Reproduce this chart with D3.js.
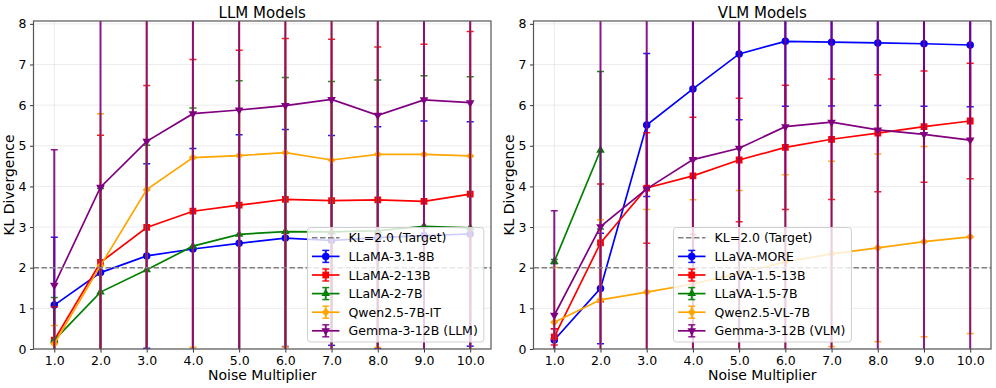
<!DOCTYPE html>
<html>
<head>
<meta charset="utf-8">
<script src="https://cdn.jsdelivr.net/npm/d3@7"></script>
<style>
  body { margin: 0; background: #fff; }
  text { font-family: "DejaVu Sans", sans-serif; fill: #000; }
</style>
</head>
<body>
<svg id="chart" width="996" height="388"></svg>
<script>
"use strict";

// noise multipliers on the x axis
var noiseMult = [1, 2, 3, 4, 5, 6, 7, 8, 9, 10];
var yTicks = [0, 1, 2, 3, 4, 5, 6, 7, 8];
var targetKL = 2.0;

// LLM panel
var llmNames = ["LLaMA-3.1-8B", "LLaMA-2-13B", "LLaMA-2-7B", "Qwen2.5-7B-IT", "Gemma-3-12B (LLM)"];
var llama31_8b_mean = [1.08, 1.88, 2.29, 2.46, 2.60, 2.73, 2.67, 2.74, 2.79, 2.83];
var llama31_8b_std  = [1.67, 2.12, 2.27, 2.47, 2.67, 2.67, 2.58, 2.73, 2.82, 2.76];
var llama2_13b_mean = [0.22, 2.13, 2.99, 3.39, 3.54, 3.68, 3.65, 3.67, 3.63, 3.81];
var llama2_13b_std  = [0.82, 3.13, 3.49, 3.73, 3.81, 3.96, 3.97, 3.76, 3.87, 4.00];
var llama2_7b_mean  = [0.22, 1.40, 1.95, 2.53, 2.82, 2.89, 2.88, 2.91, 3.02, 2.98];
var llama2_7b_std   = [1.05, 2.55, 3.06, 3.40, 3.78, 3.79, 3.70, 3.71, 3.70, 3.72];
var qwen25_7b_mean  = [0.13, 2.05, 3.92, 4.71, 4.76, 4.83, 4.65, 4.79, 4.79, 4.75];
var qwen25_7b_std   = [0.45, 3.74, 4.30, 4.67, 4.90, 4.78, 4.85, 4.75, 4.90, 4.88];
var gemma_llm_mean  = [1.57, 3.98, 5.11, 5.79, 5.88, 5.99, 6.14, 5.75, 6.13, 6.06];
var gemma_llm_std   = [3.33, 4.60, 5.50, 6.10, 6.30, 6.40, 6.50, 6.20, 6.60, 6.50];

// VLM panel
var vlmNames = ["LLaVA-MORE", "LLaVA-1.5-13B", "LLaVA-1.5-7B", "Qwen2.5-VL-7B", "Gemma-3-12B (VLM)"];
var llava_more_mean = [0.22, 1.49, 5.51, 6.40, 7.26, 7.57, 7.55, 7.53, 7.51, 7.48];
var llava_more_std  = [0.28, 1.36, 1.76, 1.74, 1.62, 1.60, 1.57, 1.54, 1.54, 1.52];
var llava15_13b_mean = [0.30, 2.61, 3.96, 4.26, 4.65, 4.96, 5.16, 5.31, 5.47, 5.61];
var llava15_13b_std  = [0.20, 1.45, 1.36, 1.44, 1.52, 1.53, 1.48, 1.44, 1.37, 1.42];
var llava15_7b_mean = [2.15, 4.89, null, null, null, null, null, null, null, null];
var llava15_7b_std  = [0.05, 1.94, null, null, null, null, null, null, null, null];
var qwen25_vl_mean = [0.66, 1.21, 1.40, 1.60, 1.87, 2.14, 2.34, 2.49, 2.64, 2.76];
var qwen25_vl_std  = [1.35, 1.97, 2.03, 2.07, 2.03, 2.15, 2.28, 2.31, 2.34, 2.38];
var gemma_vlm_mean = [0.83, 3.01, 3.94, 4.66, 4.94, 5.47, 5.58, 5.39, 5.28, 5.14];
var gemma_vlm_std  = [2.57, 5.50, 6.00, 6.50, 6.50, 7.00, 7.00, 7.00, 7.00, 7.00];

// styles per series slot (same order in both panels)
var styles = [
    { color: "blue",   marker: "circle" },
    { color: "red",    marker: "square" },
    { color: "green",  marker: "triangle" },
    { color: "orange", marker: "diamond" },
    { color: "purple", marker: "triangleDown" }
];

var panels = [
    { title: "LLM Models", names: llmNames, left: 33.5,
      means: [llama31_8b_mean, llama2_13b_mean, llama2_7b_mean, qwen25_7b_mean, gemma_llm_mean],
      stds:  [llama31_8b_std, llama2_13b_std, llama2_7b_std, qwen25_7b_std, gemma_llm_std],
      legendX: 307.5 },
    { title: "VLM Models", names: vlmNames, left: 533.5,
      means: [llava_more_mean, llava15_13b_mean, llava15_7b_mean, qwen25_vl_mean, gemma_vlm_mean],
      stds:  [llava_more_std, llava15_13b_std, llava15_7b_std, qwen25_vl_std, gemma_vlm_std],
      legendX: 673.5 }
];

var svg = d3.select("#chart");
var plotW = 457.5, plotTop = 21, plotBottom = 349;

function markerPath(kind) {
    if (kind === "circle") return d3.symbol().type(d3.symbolCircle).size(44)();
    if (kind === "square") return d3.symbol().type(d3.symbolSquare).size(46)();
    if (kind === "diamond") return d3.symbol().type(d3.symbolSquare).size(34)();
    return d3.symbol().type(d3.symbolTriangle).size(32)();
}
function markerRotate(kind) {
    if (kind === "diamond") return 45;
    if (kind === "triangleDown") return 180;
    return 0;
}

function drawPanel(p, idx) {
    var x = d3.scaleLinear().domain([0.55, 10.45]).range([p.left, p.left + plotW]);
    var y = d3.scaleLinear().domain([0, 8.07]).range([plotBottom, plotTop]);

    var g = svg.append("g");

    // grid
    g.append("g").selectAll("line").data(yTicks).enter().append("line")
        .attr("x1", p.left).attr("x2", p.left + plotW)
        .attr("y1", function (d) { return y(d); }).attr("y2", function (d) { return y(d); })
        .attr("stroke", "#b0b0b0").attr("stroke-opacity", 0.3).attr("stroke-width", 0.8);
    g.append("g").selectAll("line").data(noiseMult).enter().append("line")
        .attr("y1", plotTop).attr("y2", plotBottom)
        .attr("x1", function (d) { return x(d); }).attr("x2", function (d) { return x(d); })
        .attr("stroke", "#b0b0b0").attr("stroke-opacity", 0.3).attr("stroke-width", 0.8);

    var clipId = "clip" + idx;
    svg.append("clipPath").attr("id", clipId).append("rect")
        .attr("x", p.left).attr("y", plotTop).attr("width", plotW).attr("height", plotBottom - plotTop);

    var plot = g.append("g").attr("clip-path", "url(#" + clipId + ")");

    p.means.forEach(function (mean, s) {
        var st = styles[s];
        var pts = noiseMult.map(function (n, i) {
            return { x: n, m: mean[i], sd: p.stds[s][i] };
        }).filter(function (d) { return d.m !== null; });

        var sg = plot.append("g");
        var eb = sg.append("g").attr("stroke", st.color).attr("stroke-opacity", 0.9);
        eb.selectAll("line.bar").data(pts).enter().append("line")
            .attr("x1", function (d) { return x(d.x); }).attr("x2", function (d) { return x(d.x); })
            .attr("y1", function (d) { return y(d.m - d.sd); })
            .attr("y2", function (d) { return y(d.m + d.sd); })
            .attr("stroke-width", 2);
        [1, -1].forEach(function (sign) {
            eb.selectAll("line.cap" + sign).data(pts).enter().append("line")
                .attr("x1", function (d) { return x(d.x) - 3.5; })
                .attr("x2", function (d) { return x(d.x) + 3.5; })
                .attr("y1", function (d) { return y(d.m + sign * d.sd); })
                .attr("y2", function (d) { return y(d.m + sign * d.sd); })
                .attr("stroke-width", 1.5);
        });

        var line = d3.line().x(function (d) { return x(d.x); }).y(function (d) { return y(d.m); });
        sg.append("path").datum(pts).attr("d", line)
            .attr("fill", "none").attr("stroke", st.color).attr("stroke-width", 1.7);

        sg.selectAll("path.mk").data(pts).enter().append("path")
            .attr("d", markerPath(st.marker))
            .attr("transform", function (d) {
                return "translate(" + x(d.x) + "," + y(d.m) + ") rotate(" + markerRotate(st.marker) + ")";
            })
            .attr("fill", st.color);
    });

    // target line
    plot.append("line")
        .attr("x1", p.left).attr("x2", p.left + plotW)
        .attr("y1", y(targetKL)).attr("y2", y(targetKL))
        .attr("stroke", "#808080").attr("stroke-width", 1.5)
        .attr("stroke-dasharray", "5.5,2.5");

    // axes
    var xAxis = d3.axisBottom(x).tickValues(noiseMult).tickFormat(d3.format(".1f"))
        .tickSize(3.5).tickPadding(3.5);
    var yAxis = d3.axisLeft(y).tickValues(yTicks).tickFormat(d3.format("d"))
        .tickSize(3.5).tickPadding(3.5);
    var gx = g.append("g").attr("transform", "translate(0," + plotBottom + ")").call(xAxis);
    var gy = g.append("g").attr("transform", "translate(" + p.left + ",0)").call(yAxis);
    [gx, gy].forEach(function (a) {
        a.select(".domain").remove();
        a.selectAll(".tick line").attr("stroke", "#333");
        a.selectAll(".tick text").style("font-size", "12.5px").attr("fill", "#000")
            .style("font-family", "'DejaVu Sans', sans-serif");
    });

    g.append("rect")
        .attr("x", p.left).attr("y", plotTop).attr("width", plotW).attr("height", plotBottom - plotTop)
        .attr("fill", "none").attr("stroke", "#555").attr("stroke-width", 1.2);

    // labels
    g.append("text").attr("x", p.left + plotW / 2).attr("y", 17.5)
        .attr("text-anchor", "middle").style("font-size", "15px").text(p.title);
    g.append("text").attr("x", p.left + plotW / 2).attr("y", 380)
        .attr("text-anchor", "middle").style("font-size", "14px").text("Noise Multiplier");
    g.append("text")
        .attr("transform", "translate(" + (p.left - 20) + "," + ((plotTop + plotBottom) / 2) + ") rotate(-90)")
        .attr("text-anchor", "middle").style("font-size", "14px").text("KL Divergence");

    // legend
    var lg = g.append("g").attr("transform", "translate(" + p.legendX + ",227.5)");
    var box = lg.append("rect").attr("rx", 3).attr("ry", 3)
        .attr("fill", "#fff").attr("fill-opacity", 0.8)
        .attr("stroke", "#d0d0d0").attr("stroke-width", 1);
    var rowH = 18.6, y0 = 10.3, hx0 = 4.5, hx1 = 32, tx = 41;
    var hc = (hx0 + hx1) / 2;

    lg.append("line").attr("x1", hx0).attr("x2", hx1).attr("y1", y0).attr("y2", y0)
        .attr("stroke", "#808080").attr("stroke-width", 1.5).attr("stroke-dasharray", "5.5,2.5");
    var labels = ["KL=2.0 (Target)"].concat(p.names);
    var maxW = 0;
    labels.forEach(function (t, i) {
        var tt = lg.append("text").attr("x", tx).attr("y", y0 + i * rowH).attr("dy", "0.36em")
            .style("font-size", "12.5px").text(t);
        maxW = Math.max(maxW, tt.node().getComputedTextLength());
    });
    p.names.forEach(function (n, s) {
        var st = styles[s];
        var cy = y0 + (s + 1) * rowH;
        var hg = lg.append("g").attr("stroke", st.color);
        hg.append("line").attr("x1", hx0).attr("x2", hx1).attr("y1", cy).attr("y2", cy).attr("stroke-width", 1.7);
        hg.append("line").attr("x1", hc).attr("x2", hc).attr("y1", cy - 6).attr("y2", cy + 6)
            .attr("stroke-width", 2).attr("stroke-opacity", 0.9);
        [-6, 6].forEach(function (dy) {
            hg.append("line").attr("x1", hc - 3.5).attr("x2", hc + 3.5)
                .attr("y1", cy + dy).attr("y2", cy + dy).attr("stroke-width", 1.5).attr("stroke-opacity", 0.9);
        });
        lg.append("path").attr("d", markerPath(st.marker))
            .attr("transform", "translate(" + hc + "," + cy + ") rotate(" + markerRotate(st.marker) + ")")
            .attr("fill", st.color);
    });
    box.attr("x", 0).attr("y", 0).attr("width", tx + maxW + 6).attr("height", 114.5);
}

panels.forEach(drawPanel);
</script>
</body>
</html>
